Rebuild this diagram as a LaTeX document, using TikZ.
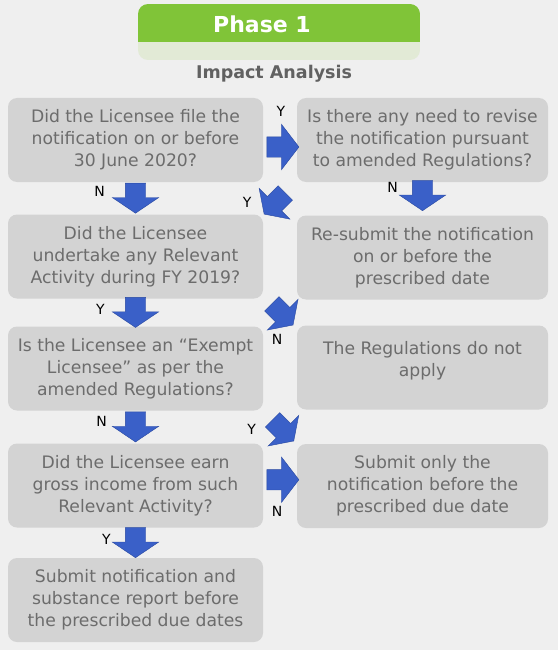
\documentclass[tikz,border=0pt]{standalone}
\usepackage{fontspec}
\setmainfont{DejaVu Sans}
\usetikzlibrary{shapes.arrows,positioning,calc}
\definecolor{bggray}{RGB}{239,239,239}
\definecolor{boxgray}{RGB}{211,211,211}
\definecolor{txtgray}{RGB}{108,108,108}
\definecolor{arrowblue}{RGB}{58,96,200}
\definecolor{edgeblue}{RGB}{40,72,160}
\definecolor{phasegreen}{RGB}{128,196,56}
\definecolor{bandgreen}{RGB}{226,234,214}

\begin{document}
\begin{tikzpicture}[x=1pt,y=-1pt,
    box/.style={fill=boxgray, text=txtgray, rounded corners=9pt, minimum width=255pt,
      minimum height=84pt, align=center, inner sep=0pt, font=\fontsize{17.2}{22}\selectfont},
    rbox/.style={box, minimum width=251pt},
    barrow/.style={single arrow, fill=arrowblue, draw=edgeblue, line width=0.4pt,
      minimum height=30pt, inner xsep=0pt, inner ysep=10pt, single arrow head extend=13pt,
      single arrow tip angle=112},
    sarrow/.style={barrow, minimum height=32pt, single arrow head extend=12.5pt,
      single arrow tip angle=105},
    yn/.style={font=\fontsize{14}{14}\selectfont, inner sep=0pt}]
  \useasboundingbox[fill=bggray] (0,0) rectangle (558,650);

  \begin{scope}
    \clip[rounded corners=10pt] (138,4) rectangle (420,60);
    \fill[phasegreen] (138,4) rectangle (420,42);
    \fill[bandgreen] (138,42) rectangle (420,60);
  \end{scope}
  \node[text=white, font=\fontsize{22}{22}\selectfont\bfseries] (phase) at (262,24) {Phase 1};
  \node[text=txtgray!90!black, font=\fontsize{17.5}{17.5}\selectfont\bfseries] (impact) at (274,74) {Impact Analysis};

  \node[box] (l1) at (135.5,140) {Did the Licensee file the\\notification on or before\\30 June 2020?};
  \node[box] (l2) at (135.5,256.5) {Did the Licensee\\undertake any Relevant\\Activity during FY 2019?};
  \node[box] (l3) at (135.5,368.5) {Is the Licensee an “Exempt\\Licensee” as per the\\amended Regulations?};
  \node[box] (l4) at (135.5,485.5) {Did the Licensee earn\\gross income from such\\Relevant Activity?};
  \node[box] (l5) at (135.5,600) {Submit notification and\\substance report before\\the prescribed due dates};

  \node[rbox] (r1) at (422.5,140) {Is there any need to revise\\the notification pursuant\\to amended Regulations?};
  \node[rbox] (r2) at (422.5,257.5) {Re-submit the notification\\on or before the\\prescribed date};
  \node[rbox] (r3) at (422.5,367.5) {};
  \node[text=txtgray, align=center, font=\fontsize{17.2}{22}\selectfont] (r3text) at ([yshift=7pt]r3.center) {The Regulations do not\\apply};
  \node[rbox] (r4) at (422.5,486) {Submit only the\\notification before the\\prescribed due date};

  \node[barrow, rotate=-90, xshift=-3.5pt] (a1) at ($(l1.south)!.5!(l2.north)$) {};
  \node[barrow, rotate=-90, xshift=-3.5pt] (a2) at ($(l2.south)!.5!(l3.north)$) {};
  \node[barrow, rotate=-90, xshift=-3.5pt] (a3) at ($(l3.south)!.5!(l4.north)$) {};
  \node[barrow, rotate=-90, xshift=-3.5pt] (a4) at ($(l4.south)!.5!(l5.north)$) {};
  \node[barrow, rotate=-90, xshift=-6.5pt] (b1) at ($(r1.south)!.5!(r2.north)$) {};
  \node[sarrow, yshift=-7pt, xshift=-1pt] (c1) at ($(l1.east)!.5!(r1.west)$) {};
  \node[sarrow, yshift=6pt, xshift=-1pt] (c2) at ($(l4.east)!.5!(r4.west)$) {};
  \node[barrow, rotate=225, xshift=4pt, single arrow head extend=11.5pt] (d1) at ($(r1.south west)!.5!(l2.north east)$) {};
  \node[barrow, rotate=-45, single arrow head extend=11.5pt] (d2) at ($(l2.south east)!.5!(r3.north west)$) {};
  \node[barrow, rotate=-45, xshift=1pt, single arrow head extend=11.5pt] (d3) at ($(l3.south east)!.5!(r4.north west)$) {};

  \node[yn] (na1) at ([xshift=-36pt,yshift=3pt]a1.center) {N};
  \node[yn] (ya2) at ([xshift=-35pt]a2.center) {Y};
  \node[yn] (na3) at ([xshift=-34pt,yshift=2pt]a3.center) {N};
  \node[yn] (ya4) at ([xshift=-29pt]a4.center) {Y};
  \node[yn] (nb1) at ([xshift=-30pt,yshift=5pt]b1.center) {N};
  \node[yn] (yc1) at ([xshift=2pt,yshift=36pt]c1.center) {Y};
  \node[yn] (nc2) at ([xshift=-2pt,yshift=-32pt]c2.center) {N};
  \node[yn] (yd1) at ([xshift=-30pt,yshift=-1pt]d1.center) {Y};
  \node[yn] (nd2) at ([xshift=-3pt,yshift=-27pt]d2.center) {N};
  \node[yn] (yd3) at ([xshift=-29pt,yshift=-1pt]d3.center) {Y};
\end{tikzpicture}
\end{document}
